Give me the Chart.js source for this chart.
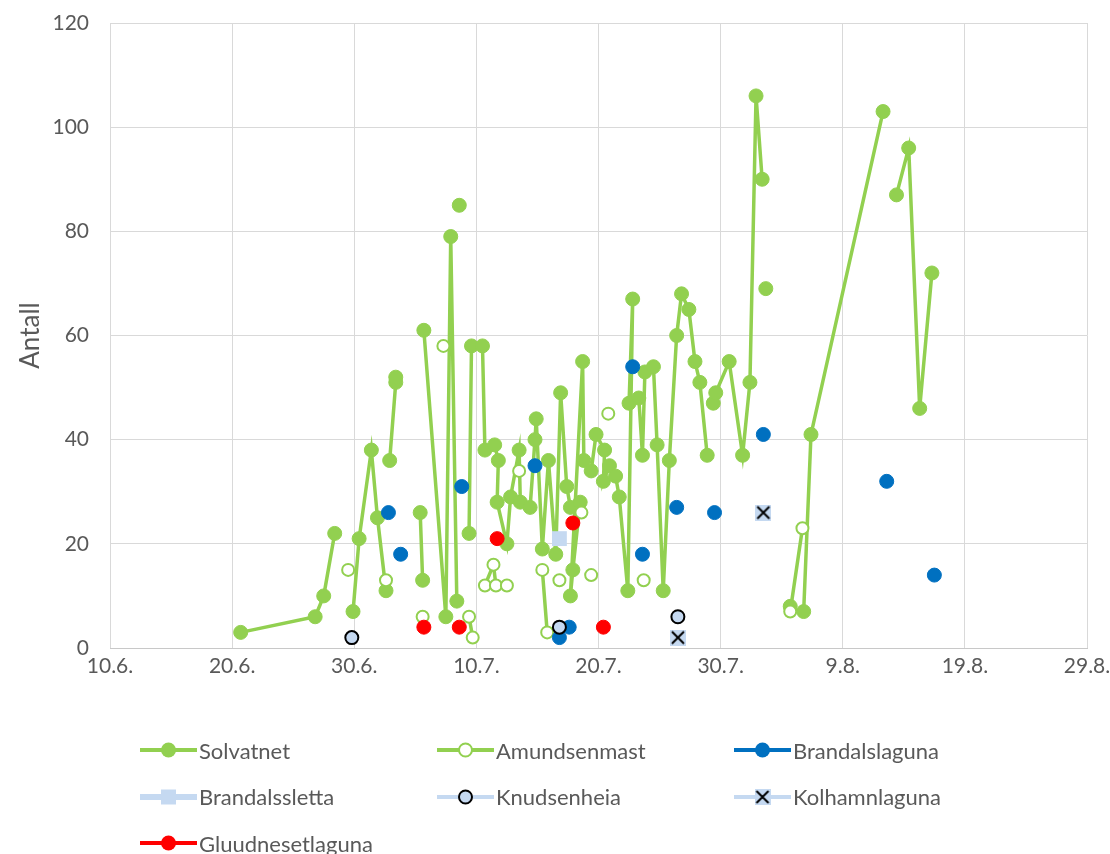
<!DOCTYPE html>
<html>
<head>
<meta charset="utf-8">
<script src="https://cdn.jsdelivr.net/npm/chart.js@4.4.1/dist/chart.umd.min.js"></script>
<style>
  html, body { margin: 0; padding: 0; background: #fff; }
  #wrap { position: relative; width: 1110px; height: 854px; overflow: hidden; font-family: Lato, 'Open Sans', sans-serif; }
  #chart-box { position: absolute; left: 0; top: 0; width: 1110px; height: 700px; }
  #legend { position: absolute; left: 0; top: 0; width: 1110px; height: 854px; }
  .leg-item { position: absolute; display: flex; align-items: center; height: 30px; }
  .leg-item canvas { display: block; }
  .leg-item span { font-size: 22px; color: #595959; margin-left: 2px; white-space: nowrap; }
</style>
</head>
<body>
<div id="wrap">
  <div id="chart-box"><canvas id="chart"></canvas></div>
  <div id="legend"></div>
</div>
<script>
(() => {
    // x = days after 10.6.
    const xTickLabels = ['10.6.', '20.6.', '30.6.', '10.7.', '20.7.', '30.7.', '9.8.', '19.8.', '29.8.'];

    // null = break in the line
    const solvatnetX = [10.7, 16.8, 17.5, 18.4, null,
        19.9, 20.4, 21.4, 21.9, 22.6, null,
        22.9, 23.4, 23.4, null,
        25.4, 25.6, null,
        25.7, 27.5, 27.9, 28.4, null,
        28.6, null,
        29.4, 29.6, 30.5, 30.7, 31.5, 31.8, 31.7, 32.5, 32.8, 33.5, 33.6, 34.4, 34.8, 34.9, 35.4, 35.9, 36.5,
        36.9, 37.4, 37.7, 38.5, 37.9, 37.7, 38.7, 38.8, 39.4, 39.8, 40.5, 40.4, 40.9, 41.4, 41.7, 42.4,
        42.8, 42.5, 43.3, 43.6, 43.8, 44.5, 44.8, 45.3, 45.8, 46.4, 46.8, 47.4, 47.9, 48.3, 48.9, null,
        49.4, 49.6, 50.7, 51.8, 52.4, 52.9, 53.4, null,
        53.7, null,
        55.7, null,
        56.8, 57.4, 63.3, null,
        64.4, 65.4, 66.3, 67.3];
    const solvatnetY = [3, 6, 10, 22, null,
        7, 21, 38, 25, 11, null,
        36, 51, 52, null,
        26, 13, null,
        61, 6, 79, 9, null,
        85, null,
        22, 58, 58, 38, 39, 36, 28, 20, 29, 38, 28, 27, 40, 44, 19, 36, 18,
        49, 31, 27, 28, 15, 10, 55, 36, 34, 41, 38, 32, 35, 33, 29, 11,
        67, 47, 48, 37, 53, 54, 39, 11, 36, 60, 68, 65, 55, 51, 37, null,
        47, 49, 55, 37, 51, 106, 90, null,
        69, null,
        8, null,
        7, 41, 103, null,
        87, 96, 46, 72];

    const amundsenX = [19.5, null, 22.6, null, 25.6, null, 27.3, null, 29.4, 29.7, null,
        30.7, 31.4, 31.6, 32.5, null, 33.5, null, 35.4, 35.8, null, 36.8, null, 38.6, null,
        39.4, null, 40.8, null, 43.7, null, 55.7, 56.7];
    const amundsenY = [15, null, 13, null, 6, null, 58, null, 6, 2, null,
        12, 16, 12, 12, null, 34, null, 15, 3, null, 13, null, 26, null,
        14, null, 45, null, 13, null, 7, 23];

    const brandalslagunaX = [22.8, 23.8, 28.8, 34.8, 36.8, 37.6, 42.8, 43.6, 46.4, 49.5, 53.5, 63.6, 67.5];
    const brandalslagunaY = [26, 18, 31, 35, 2, 4, 54, 18, 27, 26, 41, 32, 14];

    const brandalsslettaX = [36.8];
    const brandalsslettaY = [21];

    const knudsenheiaX = [19.8, 36.8, 46.5];
    const knudsenheiaY = [2, 4, 6];

    const kolhamnlagunaX = [46.5, 53.5];
    const kolhamnlagunaY = [2, 26];

    const gluudnesetX = [25.7, 28.6, 31.7, 37.9, 40.4];
    const gluudnesetY = [4, 4, 21, 24, 4];

    const GREEN = '#92d050';
    const BLUE = '#0070c0';
    const RED = '#ff0000';
    const LIGHT = '#c5d9f1';
    const TEXT = '#595959';
    const FONT = 'Lato, "Open Sans", sans-serif';

    const pts = (xs, ys) => xs.map((x, i) => ({ x: x, y: ys[i] }));

    // X marker on a light square
    function crossImage() {
        const c = document.createElement('canvas');
        c.width = 16; c.height = 16;
        const g = c.getContext('2d');
        g.fillStyle = LIGHT;
        g.fillRect(0, 0, 16, 16);
        g.strokeStyle = '#000';
        g.lineWidth = 2;
        g.beginPath();
        g.moveTo(2, 2); g.lineTo(14, 14);
        g.moveTo(14, 2); g.lineTo(2, 14);
        g.stroke();
        return c;
    }
    const crossImg = crossImage();

    const datasets = [
        { label: 'Solvatnet', data: pts(solvatnetX, solvatnetY), showLine: true, borderColor: GREEN, backgroundColor: GREEN,
          borderWidth: 3.5, pointRadius: 7, pointBorderWidth: 1, pointStyle: 'circle', order: 7,
          legend: { line: GREEN, kind: 'dot', fill: GREEN, stroke: GREEN } },
        { label: 'Amundsenmast', data: pts(amundsenX, amundsenY), showLine: true, borderColor: GREEN, backgroundColor: '#ffffff',
          borderWidth: 3.5, pointRadius: 6, pointBorderWidth: 2, pointBorderColor: GREEN, pointStyle: 'circle', order: 6,
          legend: { line: GREEN, kind: 'ring', fill: '#ffffff', stroke: GREEN } },
        { label: 'Brandalslaguna', data: pts(brandalslagunaX, brandalslagunaY), showLine: false, borderColor: BLUE, backgroundColor: BLUE,
          pointRadius: 7, pointBorderWidth: 1, pointStyle: 'circle', order: 5,
          legend: { line: BLUE, kind: 'dot', fill: BLUE, stroke: BLUE } },
        { label: 'Brandalssletta', data: pts(brandalsslettaX, brandalsslettaY), showLine: false, borderColor: LIGHT, backgroundColor: LIGHT,
          pointRadius: 10.5, pointBorderWidth: 0, pointStyle: 'rect', order: 4,
          legend: { line: LIGHT, kind: 'square', fill: LIGHT, stroke: LIGHT } },
        { label: 'Knudsenheia', data: pts(knudsenheiaX, knudsenheiaY), showLine: false, borderColor: '#000000', backgroundColor: LIGHT,
          pointRadius: 6.5, pointBorderWidth: 2, pointStyle: 'circle', order: 3,
          legend: { line: LIGHT, kind: 'ring', fill: LIGHT, stroke: '#000000' } },
        { label: 'Kolhamnlaguna', data: pts(kolhamnlagunaX, kolhamnlagunaY), showLine: false, borderColor: '#000000', backgroundColor: LIGHT,
          pointRadius: 8, pointStyle: crossImg, order: 2,
          legend: { line: LIGHT, kind: 'cross', fill: LIGHT, stroke: '#000000' } },
        { label: 'Gluudnesetlaguna', data: pts(gluudnesetX, gluudnesetY), showLine: false, borderColor: RED, backgroundColor: RED,
          pointRadius: 7, pointBorderWidth: 1, pointStyle: 'circle', order: 1,
          legend: { line: RED, kind: 'dot', fill: RED, stroke: RED } },
    ];

    Chart.defaults.font.family = FONT;
    Chart.defaults.color = TEXT;

    new Chart(document.getElementById('chart'), {
        type: 'scatter',
        data: { datasets: datasets },
        options: {
            animation: false,
            responsive: true,
            maintainAspectRatio: false,
            layout: { padding: { left: 0, right: 23, top: 23, bottom: 0 } },
            plugins: { legend: { display: false }, tooltip: { enabled: false } },
            elements: { line: { tension: 0 } },
            datasets: { scatter: { spanGaps: false } },
            scales: {
                x: {
                    type: 'linear',
                    min: 0, max: 80,
                    afterFit: s => { s.height = 52; s.paddingLeft = 0; s.paddingRight = 0; },
                    grid: { color: '#d9d9d9', lineWidth: 1, drawTicks: false },
                    border: { color: '#c8c8c8', width: 1 },
                    ticks: {
                        stepSize: 10,
                        padding: 6,
                        maxRotation: 0,
                        font: { size: 21 },
                        color: TEXT,
                        callback: v => xTickLabels[Math.round(v / 10)],
                    },
                },
                y: {
                    min: 0, max: 120,
                    afterFit: s => { s.width = 110; s.paddingTop = 0; s.paddingBottom = 0; },
                    grid: { color: '#d9d9d9', lineWidth: 1, drawTicks: false },
                    border: { display: false },
                    ticks: { stepSize: 20, padding: 21, font: { size: 21 }, color: TEXT },
                    title: { display: true, text: 'Antall', font: { size: 26 }, color: TEXT, padding: { top: 15, bottom: 0 } },
                },
            },
        },
    });

    // legend laid out in a 3-column grid like the original
    function legendIcon(spec) {
        const c = document.createElement('canvas');
        c.width = 57; c.height = 22;
        const g = c.getContext('2d');
        g.strokeStyle = spec.line;
        g.lineWidth = spec.kind === 'square' ? 6 : 4;
        g.beginPath(); g.moveTo(0, 11); g.lineTo(57, 11); g.stroke();
        const cx = 28.5, cy = 11;
        if (spec.kind === 'square') {
            g.fillStyle = spec.fill;
            g.fillRect(cx - 7.5, cy - 7.5, 15, 15);
        } else if (spec.kind === 'cross') {
            g.drawImage(crossImg, cx - 8, cy - 8);
        } else if (spec.kind === 'ring') {
            g.beginPath(); g.arc(cx, cy, 6.5, 0, Math.PI * 2);
            g.fillStyle = spec.fill; g.fill();
            g.lineWidth = 2; g.strokeStyle = spec.stroke; g.stroke();
        } else {
            g.beginPath(); g.arc(cx, cy, 7.5, 0, Math.PI * 2);
            g.fillStyle = spec.fill; g.fill();
        }
        return c;
    }

    const legendEl = document.getElementById('legend');
    datasets.forEach((ds, i) => {
        const col = i % 3, row = Math.floor(i / 3);
        const item = document.createElement('div');
        item.className = 'leg-item';
        item.style.left = (140 + col * 297) + 'px';
        item.style.top = (735 + row * 46.5) + 'px';
        item.appendChild(legendIcon(ds.legend));
        const span = document.createElement('span');
        span.textContent = ds.label;
        item.appendChild(span);
        legendEl.appendChild(item);
    });
})();
</script>
</body>
</html>
